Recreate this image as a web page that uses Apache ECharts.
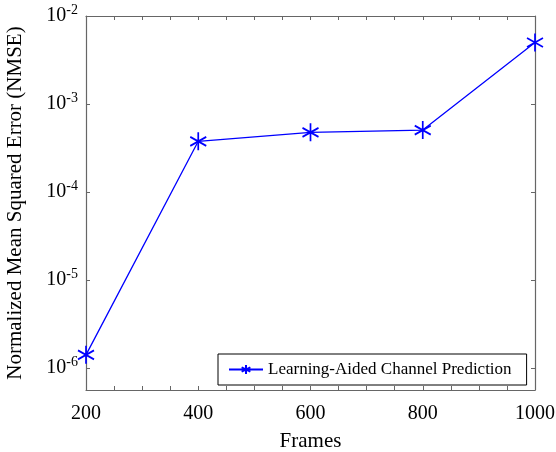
<!DOCTYPE html>
<html><head><meta charset="utf-8">
<script src="https://cdn.jsdelivr.net/npm/echarts@6/dist/echarts.min.js"></script>
<style>html,body{margin:0;padding:0;background:#fff}#c{width:556px;height:452px}</style>
</head><body><div id="c"></div>
<script>
const frames = [200, 400, 600, 800, 1000];
const nmse = [1.41e-6, 3.77e-4, 4.77e-4, 5.06e-4, 5.0e-3];
const seriesName = 'Learning-Aided Channel Prediction';
const xTitle = 'Frames';
const yTitle = 'Normalized Mean Squared Error (NMSE)';
const xLabelStep = 200;

const FONT = 'Liberation Serif';
const AX = '#666666';
const BLUE = '#0000ff';
const STAR = 'path://M0,-10L0,10M-8.66,-5L8.66,5M-8.66,5L8.66,-5';

const chart = echarts.init(document.getElementById('c'), null, {renderer: 'canvas'});
const xCommon = {
  type: 'value', min: 200, max: 1000, interval: 50,
  axisLine: {show: true, onZero: false, lineStyle: {color: AX, width: 1.2}},
  axisTick: {show: true, inside: true, length: 4, lineStyle: {color: AX}},
  splitLine: {show: false}
};
const yCommon = {
  type: 'log', logBase: 10, min: Math.pow(10, -6.25), max: 1e-2,
  axisLine: {show: true, onZero: false, lineStyle: {color: AX, width: 1.2}},
  axisTick: {show: true, inside: true, length: 4, lineStyle: {color: AX}},
  splitLine: {show: false}
};
chart.setOption({
  animation: false,
  backgroundColor: '#fff',
  grid: {left: 86, right: 21, top: 16, bottom: 62, containLabel: false, outerBoundsMode: 'none'},
  xAxis: [
    Object.assign({}, xCommon, {
      position: 'bottom',
      name: xTitle, nameLocation: 'middle', nameGap: 41,
      nameTextStyle: {fontFamily: FONT, fontSize: 21, color: '#000'},
      axisLabel: {
        show: true, margin: 14, fontFamily: FONT, fontSize: 20, color: '#000',
        formatter: v => (v % xLabelStep === 0 ? String(v) : '')
      }
    }),
    Object.assign({}, xCommon, {position: 'top', axisLabel: {show: false}})
  ],
  yAxis: [
    Object.assign({}, yCommon, {
      position: 'left',
      name: yTitle, nameLocation: 'middle', nameGap: 60,
      nameTextStyle: {fontFamily: FONT, fontSize: 21, color: '#000'},
      axisLabel: {
        show: true, margin: 8, showMinLabel: false,
        formatter: v => {
          const e = Math.log10(v);
          if (Math.abs(e - Math.round(e)) > 1e-6) return '';
          return '{a|10}{b|' + Math.round(e) + '}';
        },
        rich: {
          a: {fontFamily: FONT, fontSize: 20, color: '#000', lineHeight: 26},
          b: {fontFamily: FONT, fontSize: 14, color: '#000', verticalAlign: 'top', lineHeight: 14}
        }
      }
    }),
    Object.assign({}, yCommon, {position: 'right', axisLabel: {show: false}})
  ],
  legend: {
    show: true, left: 218, top: 354, orient: 'horizontal',
    padding: [7, 15, 7, 10],
    borderColor: '#000', borderWidth: 1, backgroundColor: '#fff',
    itemWidth: 34, itemHeight: 11,
    textStyle: {fontFamily: FONT, fontSize: 17, color: '#000'},
    data: [seriesName]
  },
  series: [{
    name: seriesName, type: 'line',
    data: frames.map((f, i) => [f, nmse[i]]),
    symbol: STAR, symbolSize: [16, 18],
    lineStyle: {color: BLUE, width: 1.3},
    itemStyle: {color: BLUE, borderColor: BLUE, borderWidth: 1.8},
    emphasis: {disabled: true}
  }]
});
</script></body></html>
